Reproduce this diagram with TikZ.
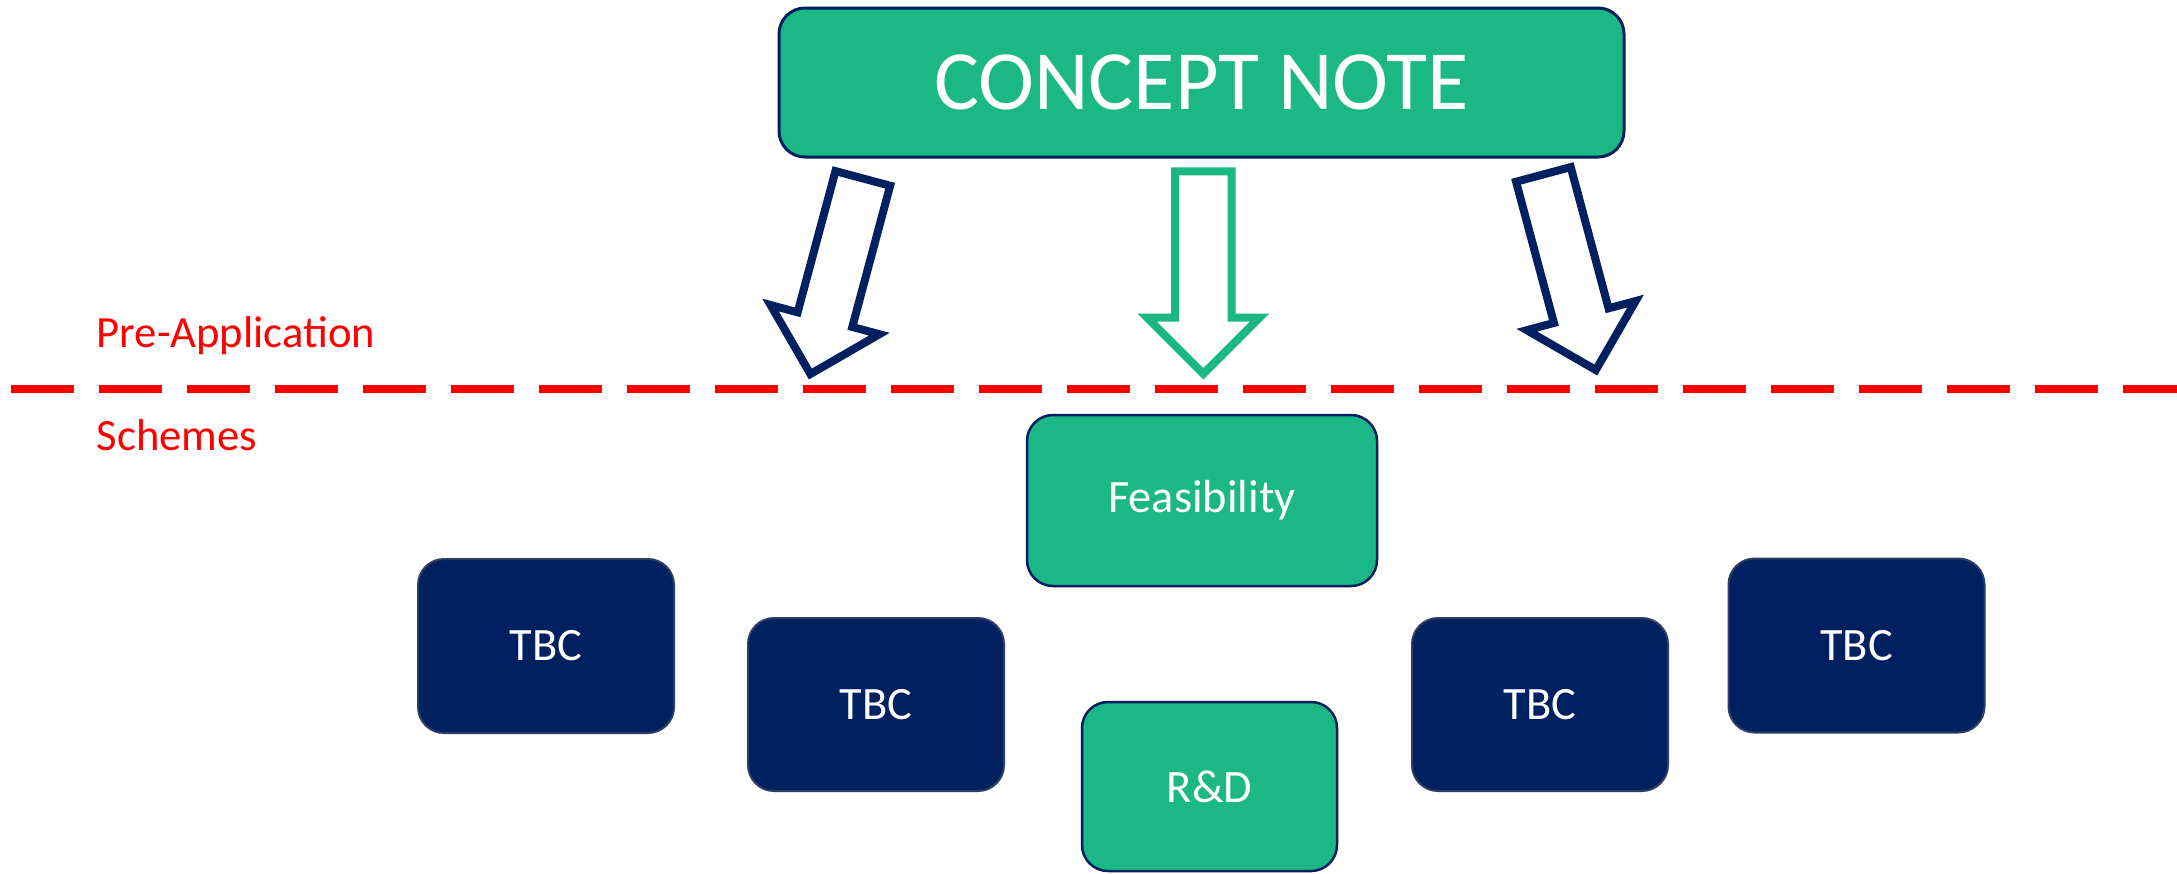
\documentclass[tikz,border=0pt]{standalone}
\usepackage{fontspec}
\setmainfont{Carlito}
\definecolor{cngreen}{HTML}{1BB885}
\definecolor{cnnavy}{HTML}{002060}
\definecolor{cnedge}{HTML}{2E3D62}
\definecolor{cnred}{HTML}{FF0000}

\begin{document}
\begin{tikzpicture}[x=0.1mm,y=-0.1mm,
  stage/.style={rectangle, rounded corners=2.6mm, inner sep=0pt, text=white,
    font=\fontsize{13.2}{16}\selectfont},
  greenbox/.style={stage, fill=cngreen, draw=cnnavy, line width=0.25mm},
  navybox/.style={stage, fill=cnnavy, draw=cnedge, line width=0.2mm},
  phase/.style={anchor=base west, text=cnred, inner sep=0pt,
    font=\fontsize{12.7}{15}\selectfont},
  blockarrow/.style={line width=0.8mm, fill=white, line join=miter},
  divider/.style={cnred, line width=0.8mm, dash pattern=on 6.35mm off 2.45mm}]

% canvas
\useasboundingbox (0,0) rectangle (2177,873);
\fill[white] (0,0) rectangle (2177,873);

% top box
\node[greenbox, rounded corners=2.6mm, line width=0.3mm,
      minimum width=84.5mm, minimum height=14.9mm,
      font=\fontsize{24}{28}\selectfont] (note) at (1201.5,82.5) {CONCEPT NOTE};

% three block arrows leaving the concept note
\def\blockarrowpath{(-28.3,0) -- (28.3,0) -- (28.3,146.2) -- (56.3,146.2)
  -- (0,202.5) -- (-56.3,146.2) -- (-28.3,146.2) -- cycle}
\begin{scope}[shift={(862.8,178.4)}, rotate=-15]
  \coordinate (arrL) at (0,0);
  \draw[blockarrow, draw=cnnavy] \blockarrowpath;
\end{scope}
\begin{scope}[shift={(1203.3,171.3)}]
  \coordinate (arrC) at (0,0);
  \draw[blockarrow, draw=cngreen] \blockarrowpath;
\end{scope}
\begin{scope}[shift={(1543.4,174.4)}, rotate=15]
  \coordinate (arrR) at (0,0);
  \draw[blockarrow, draw=cnnavy] \blockarrowpath;
\end{scope}

% phase divider
\coordinate (divL) at (10.7,389);
\coordinate (divR) at (2177,389);
\draw[divider] (divL) -- (divR);
\node[phase] (pre) at (96,347) {Pre-Application};
\node[phase] (sch) at (96,450) {Schemes};

% schemes
\node[greenbox, minimum width=35mm, minimum height=17.1mm] (feas) at (1202,500.5) {Feasibility};
\node[greenbox, minimum width=25.5mm, minimum height=16.9mm] (rnd)  at (1209.5,786.5) {R\&D};
\node[navybox, minimum width=25.6mm, minimum height=17.4mm] (tbc1) at (546,646) {TBC};
\node[navybox, minimum width=25.6mm, minimum height=17.3mm] (tbc2) at (876,704.5) {TBC};
\node[navybox, minimum width=25.6mm, minimum height=17.3mm] (tbc3) at (1540,704.5) {TBC};
\node[navybox, minimum width=25.6mm, minimum height=17.4mm] (tbc4) at (1856.5,645.5) {TBC};
\end{tikzpicture}
\end{document}
